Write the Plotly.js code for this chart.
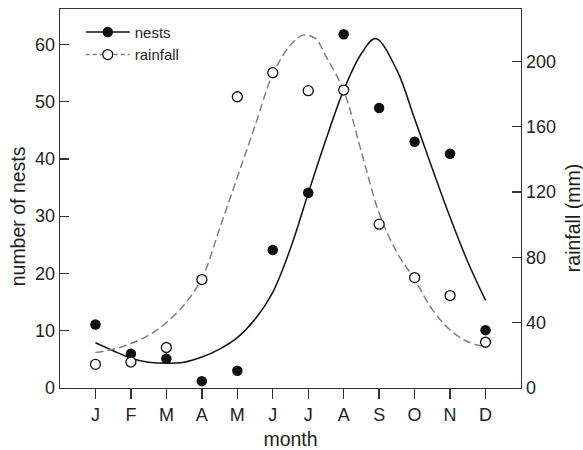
<!DOCTYPE html>
<html>
<head>
<meta charset="utf-8">
<script src="https://cdn.plot.ly/plotly-3.0.1.min.js"></script>
<style>html,body{margin:0;padding:0;background:#fff;}#chart{width:583px;height:450px;}</style>
</head>
<body>
<div id="chart"></div>
<script>
// Month tick labels and positions (month index)
const monthIndex = [0,1,2,3,4,5,6,7,8,9,10,11];
const monthLabels = ["J","F","M","A","M","J","J","A","S","O","N","D"];

// Observed values
const nests = [11.1, 6.0, 5.1, 1.2, 3.0, 24.1, 34.1, 61.75, 48.9, 43.0, 40.9, 10.1];
const rainfall = [14.5, 15.9, 24.8, 66.4, 178.3, 193.0, 182.0, 182.4, 100.3, 67.6, 56.6, 28.0];

// Fitted curves (month index, value)
const curveX = [0,0.5,1,1.5,2,2.5,3,3.5,4,4.5,5,5.5,6,6.5,7,7.5,7.9,8.5,9,9.5,10,10.5,11];
const nestsCurve = [7.9,6.5,5.2,4.5,4.3,4.5,5.4,6.8,8.8,12.0,16.7,24.4,34.0,43.4,52.0,58.4,61.0,55.5,47.0,38.3,29.8,22.0,15.3];
const rainCurveX = [0,0.5,1,1.5,2,2.5,3,3.5,4,4.5,5,5.5,5.85,6.2,6.5,7,7.5,8,8.5,9,9.5,10,10.5,11];
const rainCurve = [21.7,23.7,27.2,32.3,40,51,67,97.5,129,160.5,192,210,216,214,203,182,144.5,107,83,66.5,48,35.5,28.3,25.2];

const txt = '#231f20';
const axc = '#333333';
const fontFam = '"Liberation Sans", Arial, Helvetica, sans-serif';

const traces = [
  {x: curveX, y: nestsCurve, mode: 'lines', line: {color: '#111', width: 1.5, shape: 'spline'}, showlegend: false, hoverinfo: 'skip'},
  {x: rainCurveX, y: rainCurve, yaxis: 'y2', mode: 'lines', line: {color: '#808080', width: 1.5, dash: '8px,4px', shape: 'spline'}, showlegend: false, hoverinfo: 'skip'},
  {x: monthIndex, y: nests, mode: 'markers', marker: {symbol: 'circle', size: 10.5, color: '#111', line: {width: 0}}, showlegend: false},
  {x: monthIndex, y: rainfall, yaxis: 'y2', mode: 'markers', marker: {symbol: 'circle', size: 10, color: '#fff', line: {color: '#111', width: 1.3}}, showlegend: false},
  {x: [null], y: [null], name: 'nests', mode: 'lines+markers', line: {color: '#111', width: 1.5}, marker: {symbol: 'circle', size: 10.5, color: '#111'}},
  {x: [null], y: [null], name: 'rainfall', yaxis: 'y2', mode: 'lines+markers', line: {color: '#808080', width: 1.5, dash: '4px,3px'}, marker: {symbol: 'circle', size: 10, color: '#fff', line: {color: '#111', width: 1.3}}}
];

const layout = {
  width: 583, height: 450,
  margin: {l: 60, r: 62.3, t: 9, b: 62.3, pad: 0},
  paper_bgcolor: '#fff', plot_bgcolor: '#fff',
  font: {family: fontFam, color: txt, size: 18},
  showlegend: true,
  legend: {x: 0.045, y: 0.982, xanchor: 'left', yanchor: 'top', bgcolor: 'rgba(0,0,0,0)', font: {size: 15, color: txt}, itemwidth: 44, tracegroupgap: 0},
  xaxis: {
    range: [-1, 12], tickmode: 'array', tickvals: monthIndex, ticktext: monthLabels,
    showgrid: false, zeroline: false, showline: true, linecolor: axc, linewidth: 1.3, mirror: true,
    ticks: 'outside', ticklen: 10, tickwidth: 1.3, tickcolor: axc,
    tickfont: {size: 18, color: txt},
    title: {text: 'month', font: {size: 19.5, color: txt}, standoff: 8}
  },
  yaxis: {
    range: [0, 66.17], tickvals: [0,10,20,30,40,50,60],
    showgrid: false, zeroline: false, showline: true, linecolor: axc, linewidth: 1.3, mirror: true,
    ticks: 'inside', ticklen: 9, tickwidth: 1.3, tickcolor: axc,
    tickfont: {size: 18, color: txt}
  },
  yaxis2: {
    range: [0, 232], tickvals: [0,40,80,120,160,200], overlaying: 'y', side: 'right',
    showgrid: false, zeroline: false, showline: true, linecolor: axc, linewidth: 1.3,
    ticks: 'inside', ticklen: 9, tickwidth: 1.3, tickcolor: axc,
    tickfont: {size: 18, color: txt}
  },
  annotations: [
    {text: 'number of nests', xref: 'paper', yref: 'paper', x: 0, y: 0.453, xshift: -42, textangle: -90, showarrow: false, font: {size: 19.5, color: txt}, xanchor: 'center', yanchor: 'middle'},
    {text: 'rainfall (mm)', xref: 'paper', yref: 'paper', x: 1, y: 0.448, xshift: 52, textangle: -90, showarrow: false, font: {size: 19.5, color: txt}, xanchor: 'center', yanchor: 'middle'}
  ]
};

Plotly.newPlot('chart', traces, layout, {displayModeBar: false, staticPlot: true});
</script>
</body>
</html>
